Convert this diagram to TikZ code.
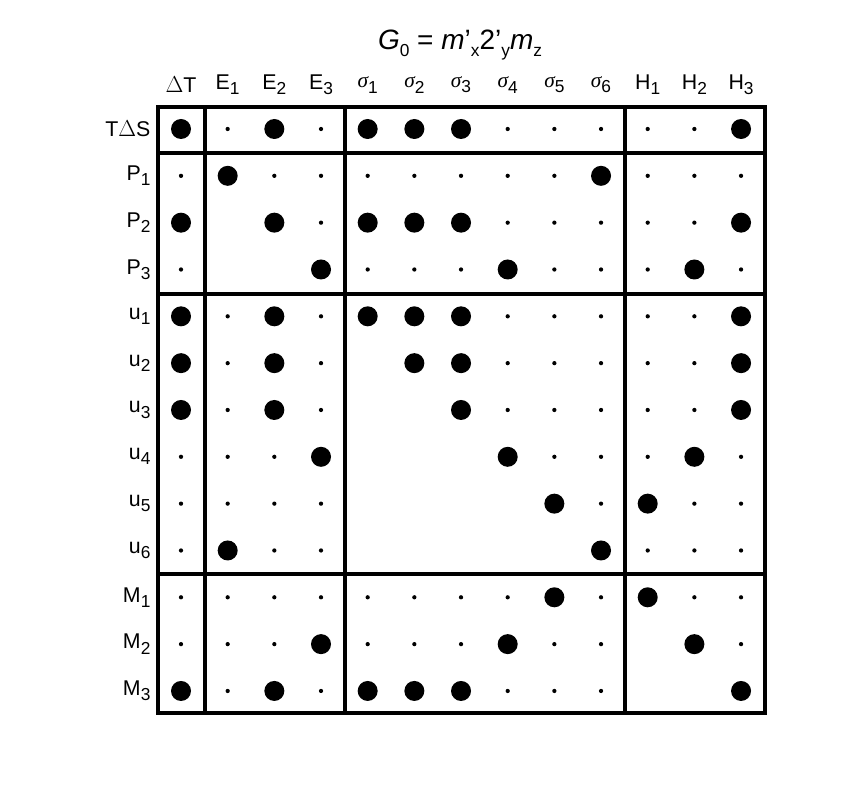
\documentclass[tikz,border=0pt]{standalone}
\usepackage{fontspec}
\setmainfont{Liberation Sans}
\newfontfamily\greekfont{Liberation Serif}
\usetikzlibrary{positioning}
\newcommand{\sub}[1]{\raisebox{-0.45ex}{\fontsize{13}{13}\selectfont #1}}
\tikzset{dotL/.style={circle, fill=black, inner sep=0pt, minimum size=15pt}}
\tikzset{dots/.style={circle, fill=black, inner sep=0pt, minimum size=3.2pt}}
\tikzset{dotn/.style={inner sep=0pt, minimum size=0pt}}
\tikzset{lbl/.style={font=\fontsize{16}{16}\selectfont, inner sep=1pt}}
\tikzset{frame/.style={line width=2.4pt}}

\begin{document}
\begin{tikzpicture}[x=0.75pt, y=-0.75pt]
\useasboundingbox (0,0) rectangle (856,812);
\node (title) [font=\fontsize{21}{21}\selectfont] at (460,45) {\textit{G}\sub{0} = \textit{m}'\sub{x}2'\sub{y}\textit{m}\sub{z}};

% column labels
\foreach \t [count=\c] in {$\Delta$T, E\sub{1}, E\sub{2}, E\sub{3},
  {\greekfont\itshape σ}\sub{1}, {\greekfont\itshape σ}\sub{2}, {\greekfont\itshape σ}\sub{3},
  {\greekfont\itshape σ}\sub{4}, {\greekfont\itshape σ}\sub{5}, {\greekfont\itshape σ}\sub{6},
  H\sub{1}, H\sub{2}, H\sub{3}}
  \node (col\c) [lbl] at ({181+46.67*(\c-1)},85) {\t};

% row labels
\foreach \t [count=\r] in {T$\Delta$S, P\sub{1}, P\sub{2}, P\sub{3}, u\sub{1}, u\sub{2},
  u\sub{3}, u\sub{4}, u\sub{5}, u\sub{6}, M\sub{1}, M\sub{2}, M\sub{3}}
  \node (row\r) [lbl, anchor=east] at (152,{129+46.83*(\r-1)}) {\t};

% dots
\foreach \line [count=\r] in {
  {L,s,L,s,L,L,L,s,s,s,s,s,L},
  {s,L,s,s,s,s,s,s,s,L,s,s,s},
  {L,n,L,s,L,L,L,s,s,s,s,s,L},
  {s,n,n,L,s,s,s,L,s,s,s,L,s},
  {L,s,L,s,L,L,L,s,s,s,s,s,L},
  {L,s,L,s,n,L,L,s,s,s,s,s,L},
  {L,s,L,s,n,n,L,s,s,s,s,s,L},
  {s,s,s,L,n,n,n,L,s,s,s,L,s},
  {s,s,s,s,n,n,n,n,L,s,L,s,s},
  {s,L,s,s,n,n,n,n,n,L,s,s,s},
  {s,s,s,s,s,s,s,s,L,s,L,s,s},
  {s,s,s,L,s,s,s,L,s,s,n,L,s},
  {L,s,L,s,L,L,L,s,s,s,n,n,L}}
  \foreach \v [count=\c] in \line
    \node (d\r-\c) [dot\v] at ({181+46.67*(\c-1)},{129+46.83*(\r-1)}) {};

% frame
\draw [frame] (158,107) rectangle (765,713);
\foreach \x in {205,345,625}
  \draw [frame] (\x,107) -- (\x,713);
\foreach \y in {153,294,574}
  \draw [frame] (158,\y) -- (765,\y);

\end{tikzpicture}
\end{document}
